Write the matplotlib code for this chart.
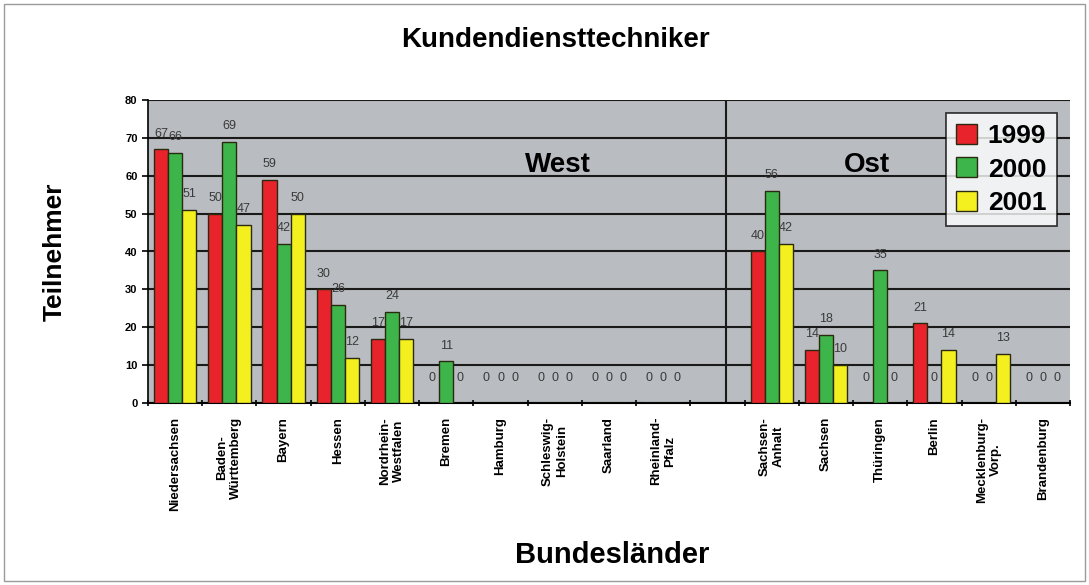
import matplotlib.pyplot as plt
import numpy as np
from matplotlib.patches import Rectangle

plt.rcParams['font.family'] = ['Liberation Sans', 'DejaVu Sans']

laender = ["Niedersachsen", "Baden-\nWürttemberg", "Bayern", "Hessen", "Nordrhein-\nWestfalen",
           "Bremen", "Hamburg", "Schleswig-\nHolstein", "Saarland", "Rheinland-\nPfalz",
           "",
           "Sachsen-\nAnhalt", "Sachsen", "Thüringen", "Berlin", "Mecklenburg-\nVorp.", "Brandenburg"]
# None = empty separator slot between West and Ost
v1999 = [67, 50, 59, 30, 17, 0, 0, 0, 0, 0, None, 40, 14, 0, 21, 0, 0]
v2000 = [66, 69, 42, 26, 24, 11, 0, 0, 0, 0, None, 56, 18, 35, 0, 0, 0]
v2001 = [51, 47, 50, 12, 17, 0, 0, 0, 0, 0, None, 42, 10, 0, 14, 13, 0]
jahre = ["1999", "2000", "2001"]
farben = ["#e8232b", "#3db54a", "#f4ef1f"]

fig = plt.figure(figsize=(10.89, 5.85), dpi=100)
fig.patches.append(Rectangle((0.004, 0.006), 0.992, 0.988, transform=fig.transFigure,
                             fill=False, edgecolor="#9a9a9a", linewidth=1))
ax = fig.add_axes([148/1089, 1 - 403/585, (1070-148)/1089, 303/585])
ax.set_facecolor("#b9bcc0")

x = np.arange(len(laender))
w = 0.26
for i, (serie, farbe, jahr) in enumerate(zip([v1999, v2000, v2001], farben, jahre)):
    xs = [xx + (i - 1) * w for xx, v in zip(x, serie) if v is not None]
    vals = [v for v in serie if v is not None]
    ax.bar(xs, vals, w, color=farbe, edgecolor="#2a2a10", linewidth=1, label=jahr, zorder=3)
    for xx, v in zip(xs, vals):
        ax.annotate(str(v), (xx, v), xytext=(0, 7 if v > 0 else 14), textcoords="offset points",
                    ha="center", va="bottom", fontsize=9, color="#3a3a3a", zorder=4)

ax.set_xlim(-0.5, len(laender) - 0.5)
ax.set_ylim(0, 80)
ax.set_yticks(range(0, 81, 10))
ax.yaxis.grid(True, color="#1a1a1a", linewidth=1.5, zorder=1)
ax.axvline(10.15, color="#1a1a1a", linewidth=1.5, zorder=2)

ax.set_xticks(np.arange(len(laender) + 1) - 0.5, minor=False)
ax.set_xticklabels([])
ax.set_xticks(x, minor=True)
ax.set_xticklabels(laender, minor=True, rotation=90, fontsize=9.5, fontweight="bold",
                   va="top", ha="center", multialignment="center")
ax.tick_params(axis="x", which="minor", length=0, pad=10)
ax.tick_params(axis="x", which="major", length=4, direction="inout", width=1.2)
ax.tick_params(axis="y", labelsize=8, length=4, width=1.2)
for lab in ax.get_yticklabels():
    lab.set_fontweight("bold")

for s in ["top", "right"]:
    ax.spines[s].set_visible(False)
ax.spines["left"].set_linewidth(1.2)
ax.spines["bottom"].set_linewidth(1.5)

ax.text(0.445, 0.785, "West", transform=ax.transAxes, fontsize=20, fontweight="bold", ha="center", va="center")
ax.text(0.78, 0.785, "Ost", transform=ax.transAxes, fontsize=20, fontweight="bold", ha="center", va="center")

leg = ax.legend(loc="upper right", bbox_to_anchor=(1.0, 1.0), fontsize=19, frameon=True,
                fancybox=False, edgecolor="black", handlelength=0.8, handleheight=0.8,
                handletextpad=0.4, labelspacing=0.35, borderpad=0.4)
leg.get_frame().set_linewidth(1.2)
leg.get_frame().set_facecolor("white")
for t in leg.get_texts():
    t.set_fontweight("bold")

fig.text(0.51, 1 - 40/585, "Kundendiensttechniker", ha="center", va="center", fontsize=20, fontweight="bold")
fig.text(612/1089, 1 - 555/585, "Bundesländer", ha="center", va="center", fontsize=21, fontweight="bold")
fig.text(55/1089, 1 - 252/585, "Teilnehmer", ha="center", va="center", fontsize=19, fontweight="bold", rotation=90)

fig.savefig("out.png", dpi=100)
